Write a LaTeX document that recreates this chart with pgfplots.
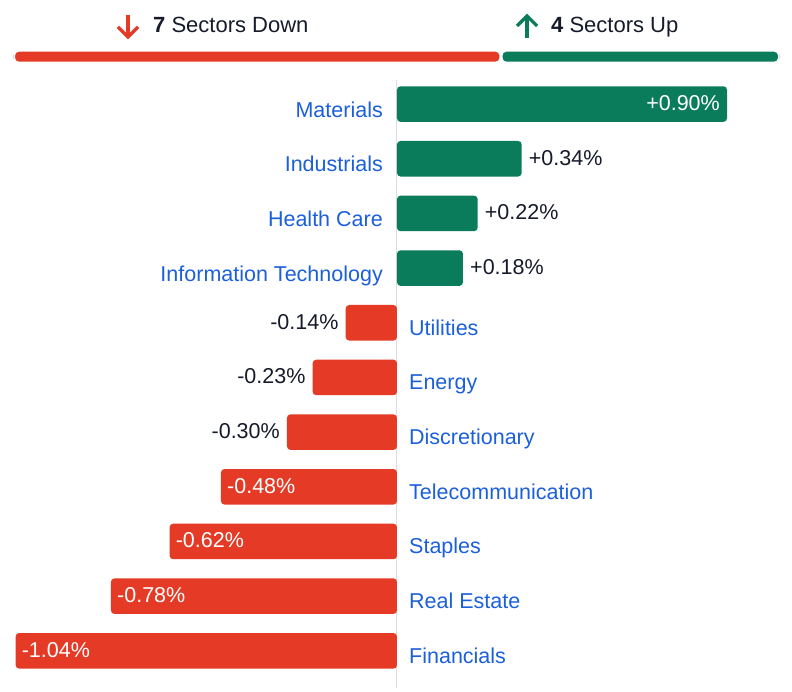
\documentclass[border=0pt]{standalone}
\usepackage{fontspec}
\setmainfont{Liberation Sans}
\usepackage{pgfplots}
\usepackage{pgfplotstable}
\pgfplotsset{compat=1.18}
\definecolor{dn}{HTML}{E43A26}
\definecolor{up}{HTML}{0A7B5B}
\definecolor{cat}{HTML}{1B5FDB}
\definecolor{txt}{HTML}{161A2B}
\definecolor{zl}{HTML}{DDDDDD}
\newcommand\lbl{\fontsize{21.5}{25}\selectfont}
\newcommand\hdr{\fontsize{22}{26}\selectfont}

\pgfplotstableread[col sep=comma]{
idx,val,name,lab
0,0.90,Materials,+0.90
1,0.34,Industrials,+0.34
2,0.22,Health Care,+0.22
3,0.18,Information Technology,+0.18
}\gainers
\pgfplotstableread[col sep=comma]{
idx,val,name,lab
4,-0.14,Utilities,-0.14
5,-0.23,Energy,-0.23
6,-0.30,Discretionary,-0.30
7,-0.48,Telecommunication,-0.48
8,-0.62,Staples,-0.62
9,-0.78,Real Estate,-0.78
10,-1.04,Financials,-1.04
}\losers

\begin{document}
\begin{tikzpicture}
\path[use as bounding box] (0,0) rectangle (792pt,691pt);

% header tally bar (7 sectors down, 4 sectors up)
\begin{axis}[at={(13.5pt,624.3pt)}, anchor=south west, scale only axis,
  width=766pt, height=20pt, xmin=0, xmax=11, ymin=-1, ymax=1,
  hide axis, xbar stacked, bar width=13pt]
\addplot[fill=dn, draw=white, line width=3pt, rounded corners=5pt] coordinates {(7,0)};
\addplot[fill=up, draw=white, line width=3pt, rounded corners=5pt] coordinates {(4,0)};
\end{axis}

% header arrows and text
\draw[dn, line width=3.2pt] (128pt,676pt) -- (128pt,655pt);
\draw[dn, line width=3.2pt, line join=miter] (118pt,664pt) -- (128pt,654pt) -- (138pt,664pt);
\draw[up, line width=3.2pt] (527pt,653pt) -- (527pt,674pt);
\draw[up, line width=3.2pt, line join=miter] (517pt,665pt) -- (527pt,675pt) -- (537pt,665pt);
\node[anchor=base west, inner sep=0pt, text=txt, font=\hdr] at (153pt,658pt) {\textbf{7} Sectors Down};
\node[anchor=base west, inner sep=0pt, text=txt, font=\hdr] at (551pt,658pt) {\textbf{4} Sectors Up};

\begin{axis}[at={(15pt,3pt)}, anchor=south west, scale only axis,
  width=765pt, height=608pt,
  xmin=-1.0417, xmax=1.0445, ymin=-0.44, ymax=10.68, y dir=reverse,
  axis line style={draw=none}, xtick=\empty, ytick=\empty,
  extra x ticks={0}, extra x tick labels={},
  extra x tick style={grid=major, major grid style={draw=zl, line width=1pt}, major tick length=0pt},
  clip=false]
\addplot[xbar, bar width=0.65, fill=up, draw=none, rounded corners=3.5pt] table[x=val,y=idx]{\gainers};
\addplot[xbar, bar width=0.65, fill=dn, draw=none, rounded corners=3.5pt] table[x=val,y=idx]{\losers};

% category labels
\addplot[draw=none, mark=none, forget plot, nodes near coords, point meta=explicit symbolic,
  every node near coord/.style={anchor=base east, xshift=-14pt, yshift=-13pt, inner sep=0pt, text=cat, font=\lbl}]
  table[x expr=0, y=idx, meta=name]{\gainers};
\addplot[draw=none, mark=none, forget plot, nodes near coords, point meta=explicit symbolic,
  every node near coord/.style={anchor=base west, xshift=12pt, yshift=-12.5pt, inner sep=0pt, text=cat, font=\lbl}]
  table[x expr=0, y=idx, meta=name]{\losers};

% value labels
\addplot[draw=none, mark=none, forget plot, nodes near coords={\pgfplotspointmeta\%}, point meta=explicit symbolic,
  skip coords between index={1}{4},
  every node near coord/.style={anchor=base east, xshift=-7pt, yshift=-6.5pt, inner sep=0pt, text=white, font=\lbl}]
  table[x=val, y=idx, meta=lab]{\gainers};
\addplot[draw=none, mark=none, forget plot, nodes near coords={\pgfplotspointmeta\%}, point meta=explicit symbolic,
  skip coords between index={0}{1},
  every node near coord/.style={anchor=base west, xshift=7pt, yshift=-6.5pt, inner sep=0pt, text=txt, font=\lbl}]
  table[x=val, y=idx, meta=lab]{\gainers};
\addplot[draw=none, mark=none, forget plot, nodes near coords={\pgfplotspointmeta\%}, point meta=explicit symbolic,
  skip coords between index={3}{7},
  every node near coord/.style={anchor=base east, xshift=-7pt, yshift=-6.5pt, inner sep=0pt, text=txt, font=\lbl}]
  table[x=val, y=idx, meta=lab]{\losers};
\addplot[draw=none, mark=none, forget plot, nodes near coords={\pgfplotspointmeta\%}, point meta=explicit symbolic,
  skip coords between index={0}{3},
  every node near coord/.style={anchor=base west, xshift=6pt, yshift=-6.5pt, inner sep=0pt, text=white, font=\lbl}]
  table[x=val, y=idx, meta=lab]{\losers};
\end{axis}
\end{tikzpicture}
\end{document}
